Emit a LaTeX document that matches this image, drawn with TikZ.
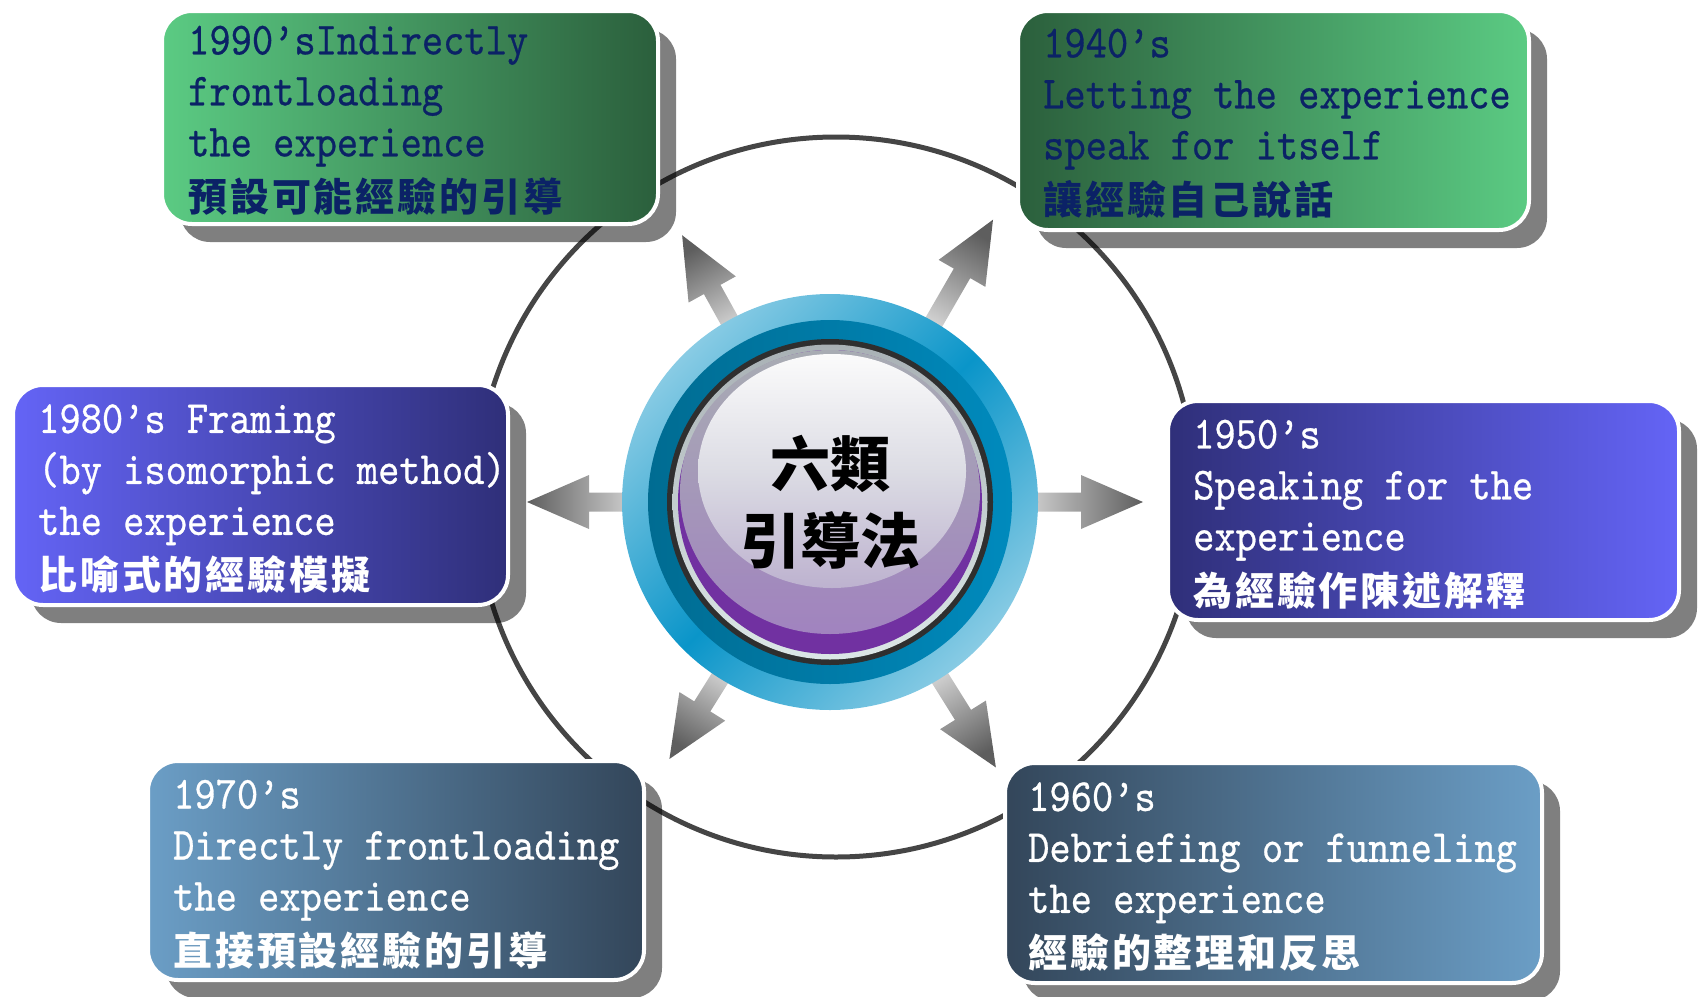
\documentclass[tikz,border=0pt]{standalone}
\usepackage{fontspec}
\newfontfamily\cjkf{Noto Sans CJK TC}
\newfontfamily\cjkb{Noto Sans CJK TC}[LetterSpace=7.5]
\newfontfamily\latf{lmmono10-regular}[Extension=.otf, FakeStretch=0.88, FakeBold=0.6]
\usetikzlibrary{calc,shadows}
\definecolor{ringgray}{HTML}{454545}
\definecolor{glight}{HTML}{5BCB83}
\definecolor{gdark}{HTML}{2B5F3C}
\definecolor{navytxt}{HTML}{0B2266}
\definecolor{vlight}{HTML}{6464F6}
\definecolor{vdark}{HTML}{2F2F79}
\definecolor{slight}{HTML}{6B9EC6}
\definecolor{sdark}{HTML}{33465A}
\definecolor{ringA}{HTML}{88CBE4}
\definecolor{ringB}{HTML}{0A95C9}
\definecolor{tealA}{HTML}{006C92}
\definecolor{tealB}{HTML}{008ABD}
\definecolor{blackring}{HTML}{2F2F2F}
\definecolor{lightA}{HTML}{A9B1B5}
\definecolor{lightB}{HTML}{DCE7E7}
\definecolor{purp}{HTML}{7131A1}
\definecolor{innerA}{HTML}{A8ACB3}
\definecolor{innerB}{HTML}{A183BF}
\definecolor{hiA}{HTML}{FBFBFB}
\definecolor{hiM}{HTML}{DCDCE4}
\definecolor{hiB}{HTML}{BDB2CF}
\definecolor{arrowdark}{HTML}{5E5E5E}
\definecolor{arrowlight}{HTML}{DDDDDD}
\newcommand\radarrow[2]{%
  \pgfmathsetmacro\shadeang{#1-90}%
  \shade[top color=arrowdark, bottom color=arrowlight, shading angle=\shadeang]
    ($(ctr)+({#1}:185)+({#1+90}:9.5)$) --
    ($(ctr)+({#1}:{#2-62})+({#1+90}:9.5)$) --
    ($(ctr)+({#1}:{#2-62})+({#1+90}:27)$) --
    ($(ctr)+({#1}:{#2})$) --
    ($(ctr)+({#1}:{#2-62})+({#1-90}:27)$) --
    ($(ctr)+({#1}:{#2-62})+({#1-90}:9.5)$) --
    ($(ctr)+({#1}:185)+({#1-90}:9.5)$) -- cycle;
}
\begin{document}
\begin{tikzpicture}[x=1pt,y=1pt,
  boxbase/.style 2 args={rounded corners=30pt, draw=white, line width=4pt,
    minimum width=#1, minimum height=#2, anchor=north west, inner sep=0pt,
    drop shadow={shadow xshift=18pt, shadow yshift=-18pt, opacity=0.5, fill=black}},
  lbl/.style={anchor=west, align=left, inner sep=0pt,
    font=\latf\fontsize{46}{51}\selectfont}]
\useasboundingbox (0,0) rectangle (1700,-996);
\newcommand\cjl{\cjkb\bfseries\fontsize{39}{51}\selectfont}

% orbit circle
\node[circle, draw=ringgray, line width=5pt, minimum size=720pt, inner sep=0pt] (orbit) at (836,-497) {};

% boxes
\node[boxbase={496pt}{213pt}, left color=glight, right color=gdark] (b1990) at (160,-9) {};
\node[lbl, text=navytxt] (t1990) at ($(b1990.west)+(28,-3)$)
  {1990’sIndirectly\\frontloading\\the experience\\[4pt]{\cjl 預設可能經驗的引導}};

\node[boxbase={511pt}{219pt}, left color=gdark, right color=glight] (b1940) at (1016,-9) {};
\node[lbl, text=navytxt] (t1940) at ($(b1940.west)+(27,-3)$)
  {1940’s\\Letting the experience\\speak for itself\\[4pt]{\cjl 讓經驗自己說話}};

\node[boxbase={495pt}{220pt}, left color=vlight, right color=vdark] (b1980) at (11,-383) {};
\node[lbl, text=white] (t1980) at ($(b1980.west)+(27,-4)$)
  {1980’s Framing\\(by isomorphic method)\\the experience\\[4pt]{\cjl 比喻式的經驗模擬}};

\node[boxbase={511pt}{219pt}, left color=vdark, right color=vlight] (b1950) at (1166,-399) {};
\node[lbl, text=white] (t1950) at ($(b1950.west)+(27,-4)$)
  {1950’s\\Speaking for the\\experience\\[4pt]{\cjl 為經驗作陳述解釋}};

\node[boxbase={496pt}{219pt}, left color=slight, right color=sdark] (b1970) at (146,-759) {};
\node[lbl, text=white] (t1970) at ($(b1970.west)+(27,-4)$)
  {1970’s\\Directly frontloading\\the experience\\[4pt]{\cjl 直接預設經驗的引導}};

\node[boxbase={537pt}{220pt}, left color=sdark, right color=slight] (b1960) at (1003,-761) {};
\node[lbl, text=white] (t1960) at ($(b1960.west)+(25,-4)$)
  {1960’s\\Debriefing or funneling\\the experience\\[4pt]{\cjl 經驗的整理和反思}};

% arrows
\coordinate (ctr) at (830,-502);
\radarrow{119}{305}
\radarrow{60}{326}
\radarrow{180}{303}
\radarrow{0}{313}
\radarrow{238}{303}
\radarrow{302}{313}

% central disk
\shade[top color=ringA, bottom color=ringA, middle color=ringB, shading angle=45] (ctr) circle[radius=208];
\shade[left color=tealA, right color=tealB] (ctr) circle[radius=182];
\fill[blackring] (ctr) circle[radius=163];
\shade[top color=lightA, bottom color=lightB] (ctr) circle[radius=157.5];
\fill[purp] (ctr) circle[radius=152];
\shade[top color=innerA, bottom color=innerB] (830,-492) ellipse[x radius=150, y radius=142];
\shade[top color=hiA, bottom color=hiB, middle color=hiM] (832,-471) ellipse[x radius=134, y radius=117];
\node[font=\cjkf\bfseries\fontsize{60}{77}\selectfont, align=center, inner sep=0pt] (title) at (830,-502) {六類\\引導法};
\end{tikzpicture}
\end{document}
